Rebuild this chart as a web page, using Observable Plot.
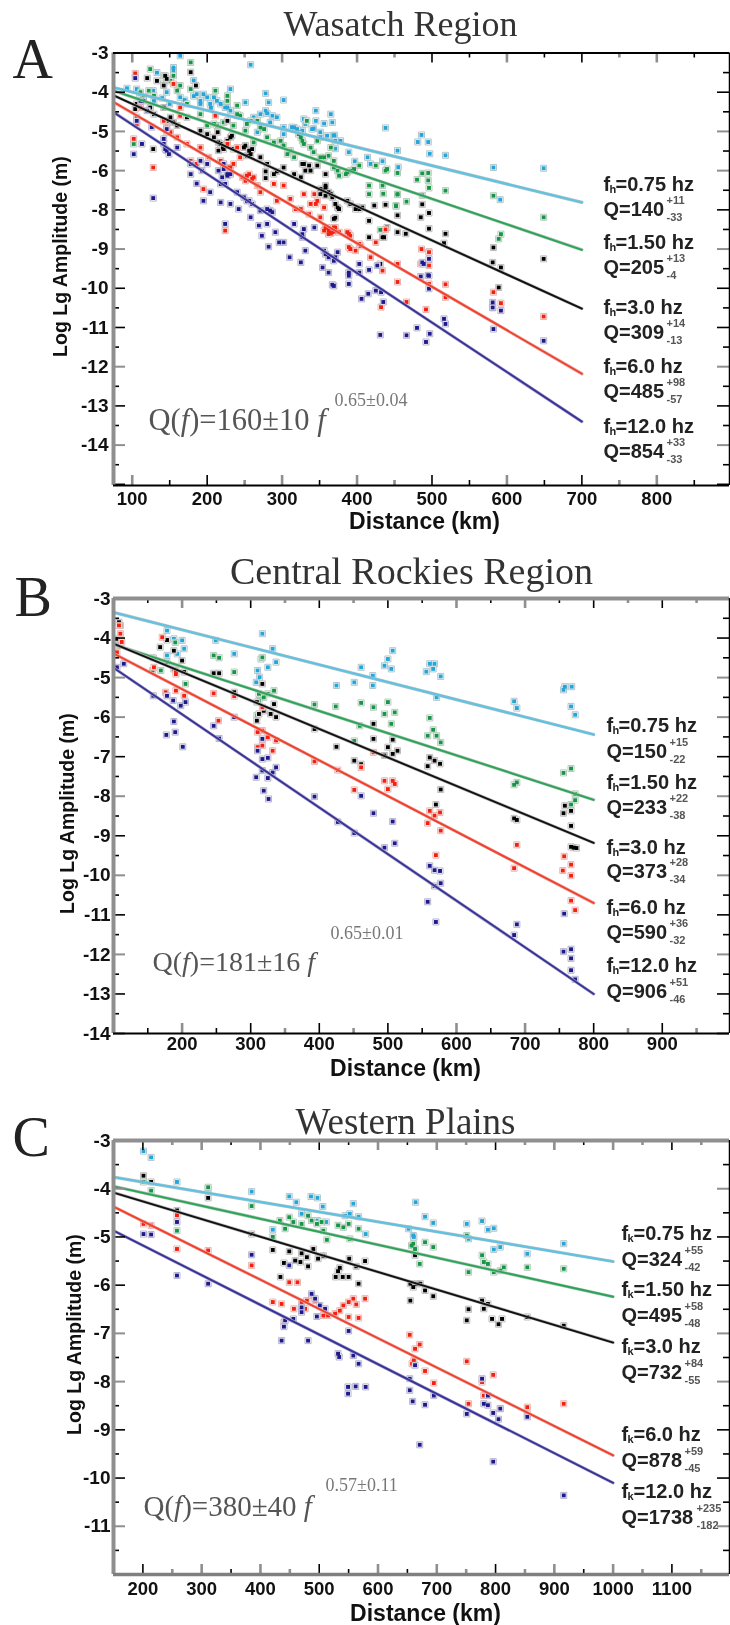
<!DOCTYPE html>
<html><head><meta charset="utf-8">
<script src="https://cdn.jsdelivr.net/npm/d3@7"></script>
<script src="https://cdn.jsdelivr.net/npm/@observablehq/plot@0.6"></script>
<style>html,body{margin:0;padding:0;background:#fff}#c{width:730px;height:1625px;overflow:hidden;filter:blur(.55px)}svg{display:block}</style>
</head><body><div id="c"></div>
<script>
// Readings are km,value pairs. Panel A's printed axis jumps from -6 to -8, so its values are stored on the evenly spaced tick positions.
const aCyan=[164,-3.07,258,-3.3,155,-3.37,182,-3.7,133,-3.5,93,-3.9,106,-3.92,128,-3.96,155,-3.45,182,-4.1,195,-4.05,209,-4.13,218,-4.3,231,-3.92,227,-4.39,191,-4.3,251,-4.26,278,-4.03,282,-4.26,302,-4.2,280,-4.54,262,-4.64,293,-4.64,284,-4.77,316,-4.9,329,-4.68,345,-4.47,365,-4.56,345,-4.73,356,-4.8,367,-4.77,369,-5.1,325,-5.02,438,-4.91,378,-5.24,414,-5.66,418,-5.83,454,-5.49,302,-5.07,267,-5.02,124,-4.39,486,-5.09,481,-5.27,495,-5.27,497,-5.57,518,-5.61,434,-5.76,455,-5.91,397,-5.76,389,-5.53,371,-5.44,313,-4.89,327,-4.98,370,-5.1,351,-5.15,342,-4.93,582,-5.92,649,-5.94,591,-6.74,110,-4.05,140,-4.15,150,-4.3,170,-4.2,205,-4.4,240,-4.6,186,-4.05,200,-4.13,213,-4.22,224,-4.39,231,-4.47,191,-4.22,204,-4.3,271,-4.56,278,-4.47,287,-4.6,302,-4.9,320,-4.94,331,-4.81,340,-4.94,351,-5.02,360,-5.11,371,-5.24,164,-4.13,146,-4,129,-4.22];
const aGreen=[124,-3.41,178,-3.24,155,-3.58,142,-3.58,102,-5.32,122,-3.96,160,-3.96,178,-3.92,211,-3.96,227,-4.09,240,-4.34,209,-4.81,200,-4.85,222,-4.77,235,-4.85,244,-4.6,258,-4.73,251,-4.98,271,-4.9,280,-5.15,289,-5.28,307,-5.58,316,-5.66,329,-5.32,333,-4.73,325,-5.15,347,-5.24,356,-5.66,369,-5.75,376,-6.13,387,-6.04,396,-5.96,403,-5.87,416,-6.38,416,-6.6,440,-5.96,454,-6.6,452,-6.89,431,-7.51,434,-6.38,129,-4.09,111,-4,164,-3.83,262,-5.28,302,-5.36,338,-5.41,365,-5.41,425,-5.87,438,-6,454,-6.06,480,-6.23,487,-6.07,495,-6.06,495,-6.25,496,-6.44,518,-6.51,435,-6.59,454,-6.61,466,-6.79,452,-6.91,487,-6.63,582,-6.64,592,-7.62,589,-7.74,649,-7.19,227,-4.22,213,-4.85,240,-4.56,253,-4.81,267,-4.73,276,-4.94,298,-5.24,311,-5.49,327,-5.24,322,-5.07,342,-5.53,351,-5.66,362,-5.62,369,-5.92,374,-6,385,-6.09,391,-6,142,-3.79,151,-3.71,115,-4.13,173,-4.3,191,-4.56];
const aBlack=[178,-3.49,185,-3.83,144,-3.58,133,-3.71,120,-3.64,104,-4.43,106,-4.64,129,-4.56,142,-4.39,146,-4.73,128,-5.45,160,-4.85,173,-4.64,227,-4.73,214,-5.02,200,-5.07,218,-5.32,231,-5.15,249,-5.41,258,-5.58,271,-5.66,235,-5.45,222,-5.45,278,-6.02,278,-6.19,293,-6.02,302,-5.92,316,-6.09,329,-5.83,338,-6,347,-5.87,358,-6.09,358,-6.43,365,-6.6,371,-6.85,387,-6.77,403,-6.98,369,-7.23,416,-7.28,438,-6.87,440,-7.45,416,-7.7,436,-7.7,431,-8.38,376,-6.98,351,-6.47,371,-7.2,400,-6.93,423,-6.89,454,-7.14,485,-7.19,496,-7.08,496,-7.48,454,-7.57,465,-7.61,434,-7.7,518,-7.61,487,-6.86,516,-7.85,582,-7.96,649,-8.25,581,-8.34,592,-8.47,589,-8.98,496,-8.07,215,-5.28,221,-5.41,227,-5.24,233,-5.11,215,-5.49,251,-5.36,256,-5.49,260,-5.45,253,-5.62,146,-3.66,142,-3.83,106,-4.3,115,-4.2,124,-4.39,151,-4.64,155,-4.77,191,-4.98,209,-5.15,280,-5.83,289,-6.09,327,-5.83,331,-6,336,-5.87,325,-6.17,354,-6.51,358,-6.38,362,-6.55,358,-6.64,367,-6.68,351,-6.6,374,-6.94,391,-6.85,398,-6.98,407,-6.94];
const aRed=[104,-3.52,102,-5.19,128,-5.92,111,-4.39,106,-4.81,155,-3.79,164,-4.39,164,-4.6,142,-4.73,211,-4.6,173,-5.32,180,-5.83,195,-6.47,227,-5.32,240,-5.41,218,-5.75,231,-5.92,244,-5.66,253,-6.13,262,-6.17,271,-6.55,289,-6.34,302,-6.38,293,-6.77,311,-6.72,329,-6.6,343,-6.6,338,-6.85,318,-6.98,336,-7.11,356,-6.94,351,-7.19,362,-7.53,369,-7.45,387,-7.57,405,-7.92,391,-8,438,-7.5,425,-7.83,418,-8.21,224,-7.53,146,-5.02,365,-7.6,389,-7.61,389,-7.95,398,-8.04,434,-8.55,454,-8.38,454,-8.84,486,-8,496,-8.08,496,-8.42,518,-8.9,518,-9.23,432,-9.48,466,-9.35,492,-9.54,496,-8.89,485,-8.38,582,-9.1,581,-9.5,592,-9.38,649,-9.72,358,-7.45,371,-7.55,222,-5.83,227,-5.92,235,-5.83,247,-6.17,256,-6.09,260,-6.21,251,-6.26,267,-6.38,360,-7.45,367,-7.57,371,-7.45,362,-7.62,356,-7.53,376,-7.57,391,-7.66,403,-7.87,151,-5.02,160,-5.15,146,-4.9,191,-5.41,178,-5.75,186,-5.83,202,-5.66,325,-6.98,347,-6.77,345,-6.85];
const aBlue=[104,-3.64,102,-5.58,113,-5.32,128,-6.7,106,-4.73,115,-4.22,126,-4.89,142,-5.19,146,-5.49,160,-5.41,178,-6.09,186,-6.33,204,-6.55,195,-6.77,218,-6.34,218,-6.81,231,-6.85,222,-5.83,227,-6.09,240,-6.55,253,-6.77,242,-6.98,258,-7.19,271,-7.02,284,-7.02,269,-7.4,280,-7.36,273,-7.66,291,-7.57,282,-7.94,296,-7.83,302,-7.83,310,-8.21,325,-8.34,316,-7.36,329,-7.49,343,-7.45,331,-8.04,327,-7.7,358,-8.13,371,-8.21,354,-8.47,362,-8.6,389,-8.6,369,-8.94,389,-8.89,224,-7.36,403,-8.6,406,-9.27,415,-9.14,425,-9.06,432,-9.1,435,-9.35,427,-8.42,403,-8.38,416,-8.53,367,-8.91,489,-8.38,495,-8.67,516,-9.78,518,-9.91,431,-10.19,466,-10.2,480,-10.01,497,-10.16,492,-10.37,496,-9.01,487,-8.34,496,-8.25,496,-8.68,485,-8.7,581,-9.36,581,-9.49,592,-9.57,582,-10.04,649,-10.34,144,-5.45,149,-5.58,142,-5.32,178,-5.83,191,-5.75,200,-5.83,193,-6,215,-6,222,-5.96,227,-6.13,220,-6.17,231,-6.09,224,-6.34,249,-6.68,256,-6.77,260,-6.85,280,-6.98,287,-7.06,327,-7.62,356,-8.04,362,-8.21,369,-8.3,374,-8.08,389,-8.68,146,-4.94,111,-4.22,120,-4.47];
const aLines=[[75,-3.88,700,-6.81],[75,-3.96,700,-8.02],[75,-4.08,700,-9.52],[75,-4.25,700,-11.18],[75,-4.51,700,-12.4]];

const bCyan=[178,-3.81,188,-4.02,200,-4.06,203,-4.27,193,-4.4,178,-4.44,249,-4.06,276,-4.4,317,-3.89,332,-4.27,315,-4.53,337,-4.61,325,-4.74,310,-4.82,313,-4.99,308,-5.12,425,-5.2,451,-5.12,461,-4.74,478,-4.95,478,-5.2,500,-4.53,507,-4.32,495,-4.7,505,-4.78,561,-4.65,568,-4.65,566,-4.78,556,-4.85,577,-4.97,571,-5.5,684,-5.6,688,-5.77,768,-5.23,758,-5.23,756,-5.31,767,-5.73,773,-5.94];
const bGreen=[109,-4.19,157,-4.82,169,-4.82,178,-4.61,190,-4.11,205,-5.16,246,-4.44,254,-4.5,276,-4.86,317,-4.49,312,-5.41,319,-5.5,312,-5.58,334,-5.33,325,-5.41,309,-5.96,393,-5.68,424,-5.73,461,-5.64,479,-5.75,500,-5.62,510,-5.88,495,-5.92,505,-6.17,459,-6.22,451,-6.6,561,-6.02,566,-6.32,558,-6.47,571,-6.47,577,-6.64,688,-7.65,684,-7.71,756,-7.41,767,-7.3,773,-8.1,767,-8.21,773,-7.94];
const bBlack=[108,-3.6,110,-3.68,104,-4.02,110,-4.15,168,-4.23,178,-4.05,188,-4.32,158,-4.5,200,-4.57,188,-4.78,203,-4.86,246,-4.89,254,-4.89,276,-5.37,317,-5.16,309,-5.62,312,-5.92,319,-5.84,329,-5.92,337,-6,309,-6.09,334,-5.67,393,-6.3,425,-6.75,451,-7.1,461,-7.19,479,-6.17,479,-6.55,500,-6.76,507,-6.57,495,-6.97,507,-6.93,514,-6.85,561,-7.02,568,-7.1,576,-7.18,558,-7.24,577,-7.83,570,-8.21,688,-8.6,684,-8.56,758,-8.24,756,-8.43,767,-8.37,767,-8.75,771,-9.3,767,-9.28,775,-9.31];
const bRed=[108,-3.68,110,-3.89,112,-4.1,105,-4.36,171,-3.98,159,-4.74,191,-4.82,191,-5.33,176,-5.37,203,-5.46,191,-4.91,246,-5.4,276,-5.47,253,-6.09,310,-6.38,317,-6.34,325,-6.51,337,-6.59,310,-6.76,317,-6.72,317,-5.75,332,-6.85,393,-7.12,427,-7.34,451,-7.84,461,-7.27,479,-6.89,495,-7.61,507,-7.61,510,-7.69,500,-7.82,561,-8.37,576,-8.41,568,-8.49,558,-8.68,577,-8.87,570,-9.49,688,-9.23,684,-9.82,757,-9.52,767,-9.73,755,-9.88,767,-10.01,767,-10.64,773,-10.88];
const bBlue=[105,-4.74,115,-4.65,158,-5.46,178,-5.46,187,-5.58,198,-5.71,205,-5.62,188,-6.11,177,-6.45,190,-6.38,201,-6.75,246,-6.22,276,-6,254,-6.54,317,-6.55,310,-6.85,317,-7.06,325,-7.03,337,-7.27,317,-7.35,332,-7.4,308,-7.52,325,-7.54,319,-7.86,326,-8.07,393,-8.01,427,-8.65,451,-8.93,479,-8.43,461,-7.99,507,-8.64,510,-9.19,495,-9.3,561,-9.76,568,-9.87,576,-9.89,568,-10.27,577,-10.2,558,-10.67,570,-11.18,688,-11.24,684,-11.51,757,-10.97,756,-11.93,767,-11.87,767,-12.1,767,-12.4,773,-12.63];
const bLines=[[100,-3.35,800,-6.44],[100,-4.16,800,-8.09],[100,-4.14,800,-9.18],[100,-4.39,800,-10.7],[100,-4.75,800,-13]];

const cCyan=[201,-3.22,214,-3.35,258,-3.86,311,-4,385,-4.06,421,-4.85,449,-4.16,461,-4.28,470,-4.52,486,-4.16,497,-4.19,506,-4.37,512,-4.69,558,-4.31,552,-4.52,544,-4.56,579,-4.94,497,-4.66,567,-4.58,664,-4.28,680,-4.58,694,-4.71,652,-4.83,660,-4.97,751,-4.73,777,-4.67,787,-4.85,797,-4.82,797,-5.26,808,-5.21,854,-5.35,916,-5.14,661,-5,754,-5.04];
const cGreen=[201,-3.86,214,-4.04,258,-4.87,311,-3.97,385,-4.36,421,-5,433,-4.66,442,-4.83,449,-4.59,456,-4.69,470,-4.73,481,-4.56,487,-4.66,496,-4.73,504,-4.69,507,-4.87,513,-5.06,532,-4.76,541,-4.8,550,-4.73,567,-4.83,552,-5.04,657,-5.18,663,-5.25,680,-5.11,694,-5.21,671,-5.56,660,-5.14,751,-4.97,754,-5.73,777,-5.38,780,-5.52,787,-5.56,797,-5.73,808,-5.7,814,-5.63,854,-5.63,916,-5.66];
const cBlack=[201,-3.73,214,-3.86,258,-4.45,311,-4.19,385,-4.94,421,-5.27,449,-5.3,470,-5.34,459,-5.49,440,-5.54,468,-5.52,481,-5.61,434,-5.83,490,-5.25,498,-5.45,507,-5.39,479,-5.42,535,-5.64,532,-5.71,528,-5.83,540,-5.83,550,-5.83,551,-5.45,563,-5.61,578,-5.5,567,-5.97,660,-6.04,655,-6.32,672,-5.97,680,-6.11,694,-6.23,663,-5.38,655,-5.97,666,-5.97,754,-6.5,751,-6.73,777,-6.32,787,-6.39,780,-6.49,794,-6.7,805,-6.81,811,-6.7,916,-6.84,854,-6.66];
const cRed=[201,-4.73,214,-4.76,258,-4.55,258,-5.25,311,-5.28,385,-5.59,421,-6.35,436,-6.39,449,-5.94,463,-5.94,440,-6.77,457,-6.49,470,-6.35,479,-6.32,487,-6.21,476,-6.49,493,-6.32,507,-6.63,515,-6.63,527,-6.59,535,-6.53,541,-6.42,550,-6.35,558,-6.28,563,-6.4,578,-6.28,550,-6.66,567,-6.68,654,-7.03,671,-7.23,663,-7.32,661,-7.56,658,-7.63,680,-7.78,695,-8.03,751,-7.58,754,-8.46,777,-8.01,780,-8.29,796,-7.86,808,-8.56,854,-8.53,854,-8.67,916,-8.46];
const cBlue=[201,-4.94,214,-4.95,258,-4.69,258,-5.8,311,-5.97,385,-5.37,436,-7.15,481,-7.15,440,-6.86,449,-5.59,470,-6.46,470,-6.56,487,-6.18,493,-6.28,501,-6.42,510,-6.49,496,-6.65,550,-6.95,532,-7.42,534,-7.49,558,-7.46,567,-7.63,442,-6.73,456,-6.7,549,-8.11,549,-8.25,562,-8.1,579,-8.11,663,-7.66,654,-7.94,654,-8.18,659,-8.41,680,-8.48,695,-8.29,671,-9.31,751,-8.67,777,-7.94,787,-8.29,780,-8.46,787,-8.49,796,-8.65,805,-8.78,808,-8.56,796,-9.66,854,-8.73,916,-10.36];
const cLines=[[150,-3.76,1000,-5.51],[150,-3.95,1000,-6.24],[150,-4.08,1000,-7.19],[150,-4.37,1000,-9.53],[150,-4.87,1000,-10.1]];

const aYLabels=["-3","-4","-5","-6","-8","-9","-10","-11","-12","-13","-14"];
const bYLabels=["-3","-4","-5","-6","-7","-8","-9","-10","-11","-12","-13","-14"];
const cYLabels=["-3","-4","-5","-6","-7","-8","-9","-10","-11"];
const aXLabels=[100,200,300,400,500,600,700,800];
const bXLabels=[200,300,400,500,600,700,800,900];
const cXLabels=[200,300,400,500,600,700,800,900,1000,1100];
const aFreq=["0.75","1.50","3.0","6.0","12.0"], aQ=["140","205","309","485","854"], aUp=["+11","+13","+14","+98","+33"], aDn=["-33","-4","-13","-57","-33"];
const bFreq=aFreq, bQ=["150","233","373","590","906"], bUp=["+15","+22","+28","+36","+51"], bDn=["-22","-38","-34","-32","-46"];
const cFreq=aFreq, cQ=["324","495","732","878","1738"], cUp=["+55","+58","+84","+59","+235"], cDn=["-42","-48","-55","-45","-182"];

const seriesStyle=[["#25a6d8","#5cc3e2","#a9bfc8"],["#169646","#2aa457","#adc4b4"],["#000","#111","#b5b5b5"],["#f5200f","#f3402c","#e3ada8"],["#1f1a8c","#38329a","#aeacc8"]];
const pairs=a=>d3.range(0,a.length,2).map(i=>({x:a[i],y:a[i+1]}));
const sans="Liberation Sans, Arial, sans-serif", serif="Liberation Serif, Times New Roman, serif";

function panel(p){
  const m={marginTop:p.top-p.y0,marginBottom:p.y0+p.h-p.bottom,marginLeft:113,marginRight:1};
  const note=(t,x,y,o={})=>Plot.text([t],{text:d=>d,frameAnchor:"top-left",dx:x-113,dy:y-p.top,lineAnchor:"bottom",textAnchor:"start",...o});
  const [yTop,yBot]=p.yd, [xL,xR]=p.xd;
  const pxY=(yBot-yTop)/(p.bottom-p.top), pxX=(xR-xL)/(729-113);
  const xMaj=d3.range(Math.ceil(xL/100)*100,xR,100), xMin=d3.range(Math.ceil(xL/50)*50,xR,50).filter(v=>v%100);
  const yMaj=d3.range(yTop,yBot-.01,-1), yMin=d3.range(yTop-.5,yBot+.01,-1);
  const tickMarks=[];
  const col=g=>g?"#8f8f8f":"#000", sw=g=>g?2.6:1.6;
  for(const [vals,len] of [[xMaj,10],[xMin,5]]) for(const g of [false,true]){
    const v=vals.filter(d=>p.grayX.includes(d)===g);
    tickMarks.push(Plot.ruleX(v,{x:d=>d,y1:yBot,y2:yBot-len*pxY,stroke:col(g),strokeWidth:sw(g)}));
    tickMarks.push(Plot.ruleX(v,{x:d=>d,y1:yTop,y2:yTop+len*pxY,stroke:col(g),strokeWidth:sw(g)}));
  }
  for(const [vals,len] of [[yMaj,12],[yMin,6]]) for(const g of [false,true]){
    const v=vals.filter(d=>p.grayY.includes(d)===g);
    tickMarks.push(Plot.ruleY(v,{y:d=>d,x1:xL,x2:xL+len*pxX,stroke:col(g),strokeWidth:g?2:1.6}));
    tickMarks.push(Plot.ruleY(v,{y:d=>d,x1:xR,x2:xR-len*pxX,stroke:col(g),strokeWidth:g?2:1.6}));
  }
  const dots=[];
  p.series.forEach((s,i)=>{
    const d=pairs(s), [core,,edge]=seriesStyle[i];
    dots.push(Plot.dot(d,{x:"x",y:"y",symbol:"square",r:3.4,fill:"#fff",stroke:edge,strokeWidth:.9}));
    dots.push(Plot.dot(d,{x:"x",y:"y",symbol:"square",r:2.2,fill:core}));
  });
  const lines=[];
  p.lines.forEach((l,i)=>{
    const d=[{x:l[0],y:l[1]},{x:l[2],y:l[3]}], [,c,e]=seriesStyle[i];
    lines.push(Plot.line(d,{x:"x",y:"y",stroke:e,strokeWidth:3.2}));
    lines.push(Plot.line(d,{x:"x",y:"y",stroke:c,strokeWidth:1.9}));
  });
  const labels=[];
  p.freq.forEach((f,i)=>{
    const [b1,b2]=p.base[i], x=p.lx, bold={fontFamily:sans,fontWeight:"bold",fill:"#222"};
    labels.push(note("f",x,b1,{...bold,fontSize:20}));
    labels.push(note(p.sub,x+6,b1+2,{...bold,fontSize:11}));
    labels.push(note("="+f+" hz",x+12,b1,{...bold,fontSize:20}));
    labels.push(note("Q="+p.q[i],x,b2,{...bold,fontSize:20}));
    const sx=x+(p.q[i].length>3?75:63);
    labels.push(note(p.up[i],sx,b2-12,{...bold,fontSize:11,fill:"#555"}));
    labels.push(note(p.dn[i],sx,b2+5,{...bold,fontSize:11,fill:"#555"}));
  });
  const s={fontFamily:serif,fill:"#555",fontSize:p.eqSize};
  const [qx,qy,supx,supy]=p.eq, em=p.eqSize;
  const frame=[
    Plot.ruleX([xL],{x:d=>d,stroke:"#8f8f8f",strokeWidth:4}),
    Plot.ruleY([yTop],{y:d=>d,stroke:p.topGray?"#8f8f8f":"#000",strokeWidth:p.topGray?4:2}),
    Plot.ruleY([yBot],{y:d=>d,stroke:p.botGray?"#7f7f7f":"#000",strokeWidth:p.botGray?3.5:2}),
    Plot.ruleX([xR],{x:d=>d,stroke:"#000",strokeWidth:1.5})
  ];
  return Plot.plot({width:730,height:p.h,...m,
    style:{fontFamily:sans,background:"transparent",overflow:"visible"},
    x:{domain:p.xd},y:{domain:[yBot,yTop]},
    marks:[
      ...dots,...lines,...tickMarks,...frame,
      Plot.axisX(p.xl,{anchor:"bottom",tickSize:0,tickPadding:p.xPad,label:null,fontSize:18.5,fontWeight:"bold",fill:"#111",tickFormat:d=>String(d)}),
      Plot.axisY(p.yl.map((_,i)=>yTop-i),{anchor:"left",tickSize:0,tickPadding:p.yPad,label:null,fontSize:19,fontWeight:"bold",fill:"#111",tickFormat:d=>p.yl[yTop-d]}),
      note(p.letter,p.lpos[0],p.lpos[1],{fontFamily:serif,fontSize:56,fill:"#222"}),
      note(p.title,p.tpos[0],p.tpos[1],{fontFamily:serif,fontSize:p.tsize,fill:"#333",textAnchor:"middle"}),
      note("Distance (km)",p.xlab[0],p.xlab[1],{fontFamily:sans,fontWeight:"bold",fontSize:23,fill:"#111",textAnchor:"middle"}),
      Plot.text(["Log Lg Amplitude (m)"],{text:d=>d,frameAnchor:"top-left",dx:p.ylab[0]-113,dy:p.ylab[1]-p.top,rotate:-90,textAnchor:"middle",lineAnchor:"middle",fontFamily:sans,fontWeight:"bold",fontSize:19.5,fill:"#111"}),
      note("Q(",qx,qy,s),
      note("f",qx+1.055*em,qy,{...s,fontStyle:"italic"}),
      note(")="+p.eqText+" ",qx+1.333*em,qy,s),
      note("f",qx+5.53*em,qy,{...s,fontStyle:"italic"}),
      note(p.eqExp,supx,supy,{fontFamily:serif,fontSize:18,fill:"#777"}),
      ...labels
    ]});
}
const panels=[
 {y0:0,h:540,top:52.5,bottom:485,xd:[75,897],yd:[-3,-14.03],yl:aYLabels,xl:aXLabels,series:[aCyan,aGreen,aBlack,aRed,aBlue],lines:aLines,
  grayX:[100,250,300,400,450,600,750,800],grayY:[-5,-6,-8,-11,-13],topGray:false,botGray:false,
  letter:"A",lpos:[12,77],title:"Wasatch Region",tpos:[400,35],tsize:36,xlab:[424,528],ylab:[60,256],
  eq:[148,429,334,405],eqSize:30.5,eqText:"160±10",eqExp:"0.65±0.04",lx:603,sub:"h",freq:aFreq,q:aQ,up:aUp,dn:aDn,
  base:[[190,215],[248,273],[313,338],[372,397],[432,457]],xPad:6,yPad:5},
 {y0:540,h:550,top:598,bottom:1033,xd:[100,998],yd:[-3,-14],yl:bYLabels,xl:bXLabels,series:[bCyan,bGreen,bBlack,bRed,bBlue],lines:bLines,
  grayX:[200,350,450,600,700,850,950],grayY:[-5,-6,-8,-10,-12],topGray:true,botGray:false,
  letter:"B",lpos:[14,615],title:"Central Rockies Region",tpos:[411,583],tsize:38,xlab:[405,1075],ylab:[67,813],
  eq:[152,970,330,938],eqSize:28,eqText:"181±16",eqExp:"0.65±0.01",lx:606,sub:"h",freq:bFreq,q:bQ,up:bUp,dn:bDn,
  base:[[731,757],[788,813],[853,877],[913,938],[971,997]],xPad:3,yPad:3},
 {y0:1090,h:535,top:1140,bottom:1574,xd:[150,1198],yd:[-3,-12],yl:cYLabels,xl:cXLabels,series:[cCyan,cGreen,cBlack,cRed,cBlue],lines:cLines,
  grayX:[250,300,400,450,600,700,750,850,900,1000,1050,1150],grayY:[-4,-7,-8,-11],topGray:true,botGray:true,
  letter:"C",lpos:[12,1155],title:"Western Plains",tpos:[405,1133],tsize:37,xlab:[425,1620],ylab:[74,1334],
  eq:[143,1515,325,1490],eqSize:29,eqText:"380±40",eqExp:"0.57±0.11",lx:621,sub:"k",freq:cFreq,q:cQ,up:cUp,dn:cDn,
  base:[[1239,1265],[1295,1321],[1352,1378],[1440,1466],[1497,1523]],xPad:7,yPad:3}
];
const host=document.getElementById("c");
panels.forEach(p=>host.append(panel(p)));
</script></body></html>
